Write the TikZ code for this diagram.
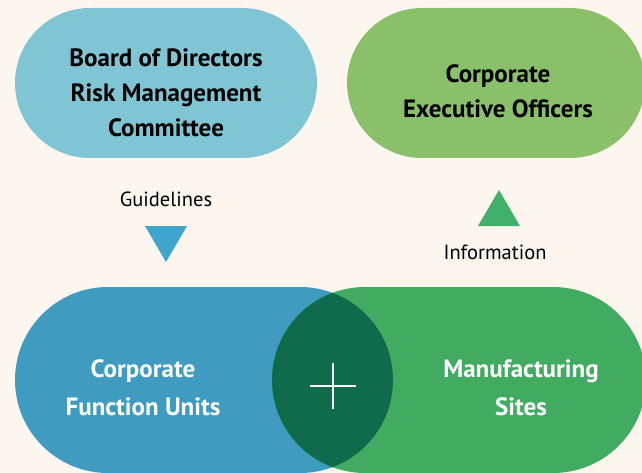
\documentclass[tikz,border=0pt]{standalone}
\usepackage{fontspec}
\setmainfont{PT Sans}
\usetikzlibrary{shapes.misc}
\definecolor{bg}{HTML}{FDF6EE}
\definecolor{lightblue}{HTML}{7FC5D3}
\definecolor{lightgreen}{HTML}{8BC06A}
\definecolor{midblue}{HTML}{3F9BC0}
\definecolor{midgreen}{HTML}{41AB62}
\definecolor{darkgreen}{HTML}{0F6B4B}
\definecolor{triblue}{HTML}{3FA5CF}
\definecolor{trigreen}{HTML}{41B06A}
\tikzset{
  pill/.style={rounded rectangle, inner sep=0pt, draw=none},
  boxtext/.style={font=\bfseries\fontsize{25}{35}\selectfont, align=center, text=black},
  whitetext/.style={font=\bfseries\fontsize{25}{38}\selectfont, align=center, text=white},
  smalltext/.style={font=\fontsize{20.5}{24}\selectfont, text=black},
}
\begin{document}
\begin{tikzpicture}[x=1pt,y=-1pt]
\fill[bg] (0,0) rectangle (642,473);
\useasboundingbox (0,0) rectangle (642,473);
% top pills
\node[pill, fill=lightblue, minimum width=302pt, minimum height=150pt] (board) at (166,83) {};
\node[pill, fill=lightgreen, minimum width=298pt, minimum height=150pt] (ceo) at (496,83) {};
\node[boxtext] (boardtxt) at (166,93) {Board of Directors\\Risk Management\\Committee};
\node[boxtext] (ceotxt) at (498,91) {Corporate\\Executive Officers};
% bottom pills
\node[pill, fill=midblue, minimum width=378pt, minimum height=186pt] (cfu) at (204,380) {};
\node[pill, fill=midgreen, minimum width=374pt, minimum height=186pt] (ms) at (459,380) {};
\begin{scope}
  \clip (300,380) circle (93);
  \fill[darkgreen] (365,380) circle (93);
\end{scope}
\coordinate (lens) at (333,386);
\draw[white, line width=2pt] ([xshift=-23pt]lens) -- ([xshift=23pt]lens)
  ([yshift=-23pt]lens) -- ([yshift=23pt]lens);
\node[whitetext] (cfutxt) at (143,388) {Corporate\\Function Units};
\node[whitetext] (mstxt) at (521,388) {Manufacturing\\Sites};
% arrows
\node[smalltext] (guide) at (166,199) {Guidelines};
\fill[triblue] (145,226) -- (187,226) -- (166,262) -- cycle;
\node[smalltext] (info) at (495,252) {Information};
\fill[trigreen] (478,226) -- (520,226) -- (499,190) -- cycle;
\end{tikzpicture}
\end{document}
